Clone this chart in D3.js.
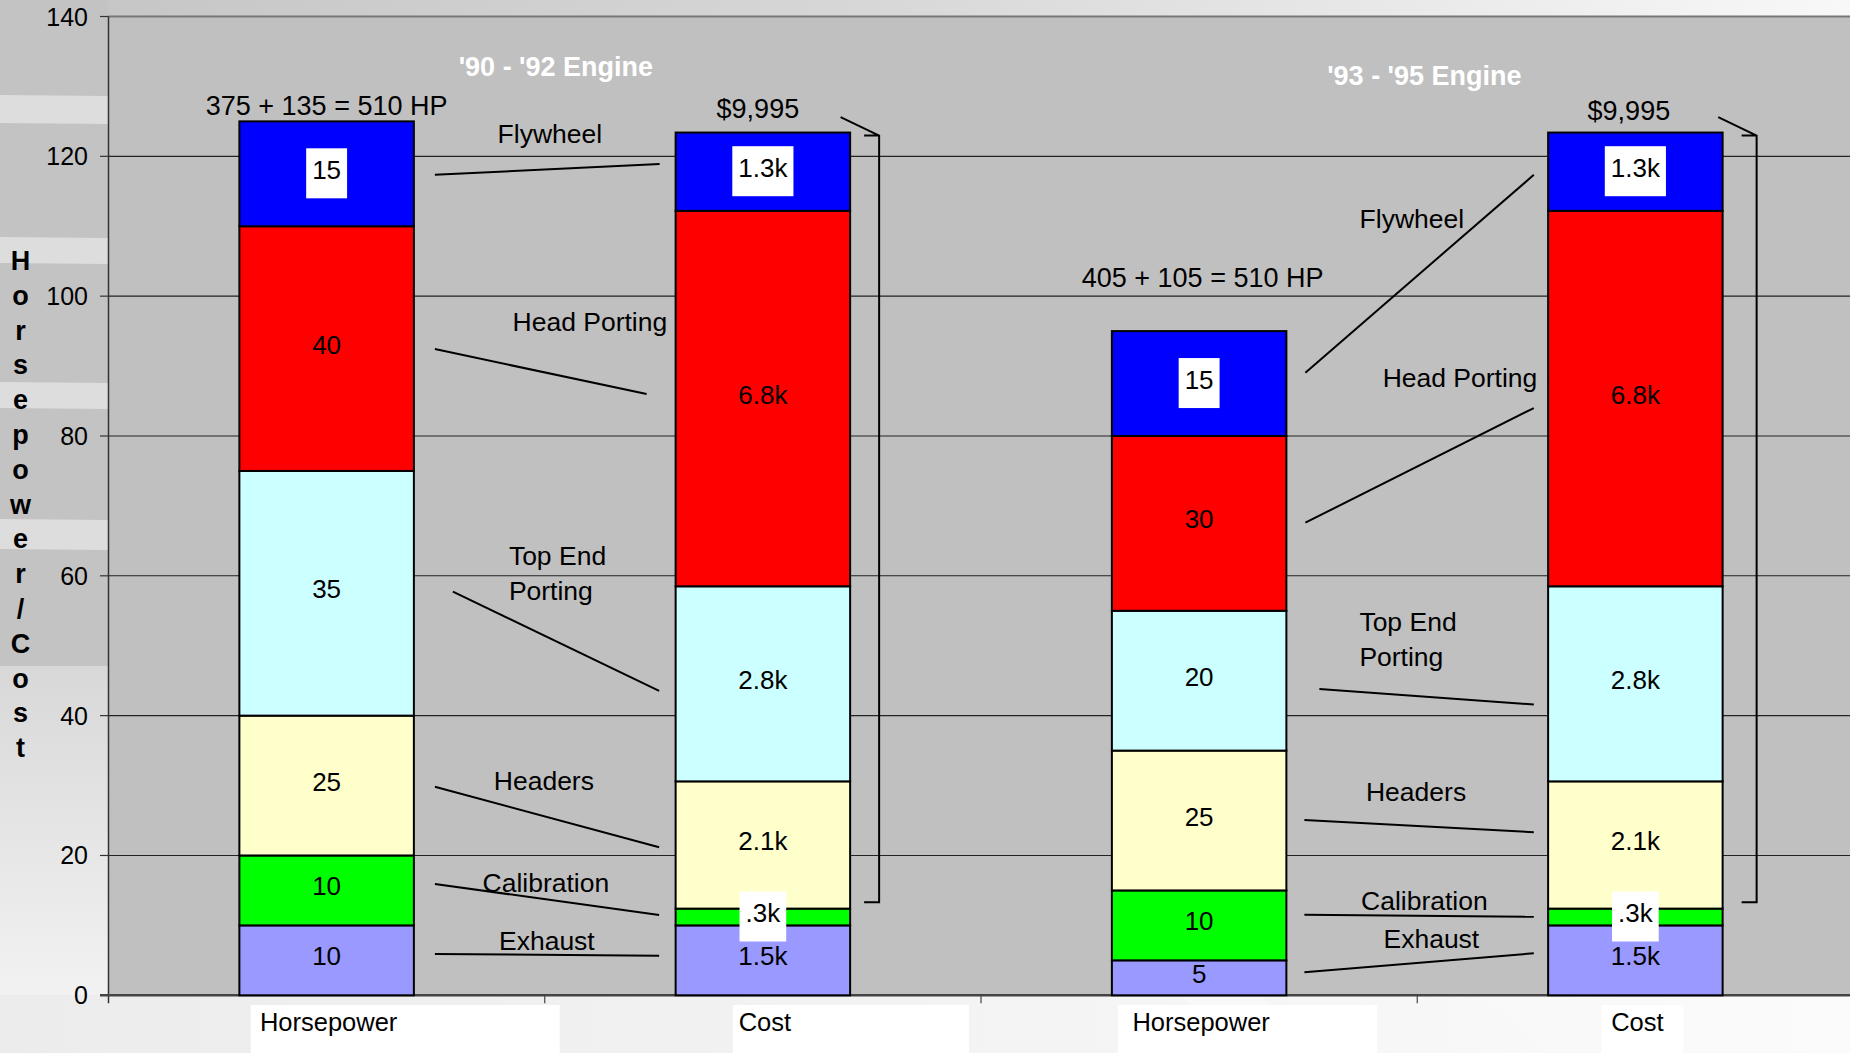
<!DOCTYPE html>
<html><head><meta charset="utf-8">
<script src="https://cdn.jsdelivr.net/npm/d3@7"></script>
<style>html,body{margin:0;padding:0;overflow:hidden;background:#fff}</style>
</head><body>
<svg id="c" width="1850" height="1053"></svg>
<script>
// ---------------- DATA ----------------
const barKeys = ["hp1", "cost1", "hp2", "cost2"];
const barTickLabels = ["Horsepower", "Cost", "Horsepower", "Cost"];
const components = ["Exhaust", "Calibration", "Headers", "Top End Porting", "Head Porting", "Flywheel"];
const componentLabels = [["Exhaust"], ["Calibration"], ["Headers"], ["Top End", "Porting"], ["Head Porting"], ["Flywheel"]];
// plotted heights (bottom -> top)
const hp1Values = [10, 10, 20, 35, 35, 15];
const cost1Values = [10, 2.4, 18.2, 27.9, 53.7, 11.2];
const hp2Values = [5, 10, 20, 20, 25, 15];
const cost2Values = [10, 2.4, 18.2, 27.9, 53.7, 11.2];
// printed segment labels
const hp1Labels = ["10", "10", "25", "35", "40", "15"];
const cost1Labels = ["1.5k", ".3k", "2.1k", "2.8k", "6.8k", "1.3k"];
const hp2Labels = ["5", "10", "25", "20", "30", "15"];
const cost2Labels = ["1.5k", ".3k", "2.1k", "2.8k", "6.8k", "1.3k"];
const totalLabels = ["375 + 135 = 510 HP", "$9,995", "405 + 105 = 510 HP", "$9,995"];
const groupTitles = ["'90 - '92 Engine", "'93 - '95 Engine"];
const yTicks = [0, 20, 40, 60, 80, 100, 120, 140];
const yTitle = "Horsepower/Cost";
// leader lines: value at HP end, value at Cost end (per component)
const leaderLeft = [[5.91, 5.67], [15.92, 11.49], [29.84, 21.17], [57.74, 43.53], [92.43, 86.0], [117.35, 118.9]];
const leaderRight = [[3.29, 6.01], [11.53, 11.24], [25.08, 23.32], [43.8, 41.6], [67.6, 84.0], [89.06, 117.35]];

// ---------------- STYLE / LAYOUT ----------------
const colors = ["#9999ff", "#00ff00", "#ffffcc", "#ccffff", "#ff0000", "#0000ff"];
const FONT = "'Liberation Sans', Arial, Helvetica, sans-serif";
const W = 1850, H = 1053;
const svg = d3.select("#c");

const x = d3.scaleBand().domain(barKeys).range([108.5, 1853.5]).paddingInner(0.6).paddingOuter(0.3);
const y = d3.scaleLinear().domain([0, 140]).range([995.3, 16.5]);
const bw = x.bandwidth();

const groups = [
  { hp: "hp1", cost: "cost1", leaders: leaderLeft, title: groupTitles[0], titleDx: 142, titleV: 131.5,
    lineStart: [21, 21, 21, 39, 21, 21], lineEnd: [-16.5, -16.5, -16.5, -16.5, -29, -16],
    labels: [{dx: 133, v: 6.5}, {dx: 132, v: 14.8}, {dx: 130, v: 29.4}, {dx: 95, v: 61.56, a: "start"}, {dx: 176, v: 95.0}, {dx: 136, v: 121.9}],
    bracket: {dx0: -9.5, v0: 125.6, dx: 29, vTop: 122.97, vBot: 13.3} },
  { hp: "hp2", cost: "cost2", leaders: leaderRight, title: groupTitles[1], titleDx: 138, titleV: 130.2,
    lineStart: [18, 18, 18, 33, 19, 19], lineEnd: [-14.3, -14.3, -14.3, -14.3, -14.3, -14.3],
    labels: [{dx: 145, v: 6.72}, {dx: 138, v: 12.2}, {dx: 129.7, v: 27.84}, {dx: 73, v: 52.1, a: "start"}, {dx: 173.6, v: 87.0}, {dx: 125.5, v: 109.7}],
    bracket: {dx0: -4.4, v0: 125.6, dx: 34, vTop: 122.97, vBot: 13.3} }
];

// ---------------- BACKGROUND ----------------
const defs = svg.append("defs");
const g1 = defs.append("linearGradient").attr("id", "topG").attr("x1", 0).attr("x2", 1).attr("y1", 0).attr("y2", 0);
g1.append("stop").attr("offset", "0%").attr("stop-color", "#c4c4c4");
g1.append("stop").attr("offset", "45%").attr("stop-color", "#d6d6d6");
g1.append("stop").attr("offset", "100%").attr("stop-color", "#f8f8f8");
const g2 = defs.append("linearGradient").attr("id", "botG").attr("x1", 0).attr("x2", 1).attr("y1", 0).attr("y2", 0);
g2.append("stop").attr("offset", "0%").attr("stop-color", "#ececec");
g2.append("stop").attr("offset", "50%").attr("stop-color", "#f3f3f3");
g2.append("stop").attr("offset", "100%").attr("stop-color", "#fbfbfb");
const g3 = defs.append("linearGradient").attr("id", "leftG").attr("x1", 0).attr("x2", 0).attr("y1", 0).attr("y2", 1);
g3.append("stop").attr("offset", "0%").attr("stop-color", "#d8d8d8");
g3.append("stop").attr("offset", "100%").attr("stop-color", "#f2f2f2");

svg.append("rect").attr("width", W).attr("height", H).attr("fill", "#eeeeee");
svg.append("rect").attr("x", 0).attr("y", 0).attr("width", W).attr("height", 17).attr("fill", "url(#topG)");
svg.append("rect").attr("x", 0).attr("y", 0).attr("width", 108.5).attr("height", 666).attr("fill", "#c3c3c3");
svg.append("rect").attr("x", 0).attr("y", 666).attr("width", 108.5).attr("height", 330).attr("fill", "url(#leftG)");
[[95, 123], [237, 263], [382, 408], [519, 549]].forEach(([a, b]) => {
  svg.append("path").attr("d", `M0,${a}L108.5,${a + 1}L108.5,${b + 1}L0,${b}Z`).attr("fill", "#dddddd");
});
svg.append("rect").attr("x", 0).attr("y", 995).attr("width", W).attr("height", 58).attr("fill", "url(#botG)");
[[1180, 1260], [1480, 1560]].forEach(([a, b]) => {
  svg.append("path").attr("d", `M${a},996L${b},996L${b + 70},1053L${a + 70},1053Z`).attr("fill", "#f9f9f9").attr("opacity", 0.8);
});

// plot area
svg.append("rect").attr("x", 108.5).attr("y", y(140)).attr("width", W - 108.5).attr("height", y(0) - y(140)).attr("fill", "#c0c0c0");

// gridlines
svg.append("g").selectAll("line").data(yTicks.filter(t => t > 0)).join("line")
  .attr("x1", 108.5).attr("x2", W).attr("y1", d => y(d)).attr("y2", d => y(d))
  .attr("stroke", d => d === 140 ? "#777" : "#222").attr("stroke-width", d => d === 140 ? 2 : 1.1);

// y axis
svg.append("line").attr("x1", 108.5).attr("x2", 108.5).attr("y1", y(140)).attr("y2", y(0) + 8).attr("stroke", "#333").attr("stroke-width", 1.5);
svg.append("g").selectAll("line").data(yTicks).join("line")
  .attr("x1", 100).attr("x2", 108.5).attr("y1", d => y(d)).attr("y2", d => y(d)).attr("stroke", "#333").attr("stroke-width", 1.2);
svg.append("g").selectAll("text").data(yTicks).join("text")
  .attr("x", 88).attr("y", d => y(d) + 9).attr("text-anchor", "end")
  .attr("font-family", FONT).attr("font-size", 25).attr("fill", "#000").text(d => d);

// y title (stacked letters)
svg.append("g").selectAll("text").data(yTitle.split("")).join("text")
  .attr("x", 20.5).attr("y", (d, i) => 270 + i * 34.8).attr("text-anchor", "middle")
  .attr("font-family", FONT).attr("font-weight", "bold").attr("font-size", 27).attr("fill", "#000").text(d => d);

// x axis baseline and boundary ticks
svg.append("line").attr("x1", 100).attr("x2", W).attr("y1", y(0)).attr("y2", y(0)).attr("stroke", "#444").attr("stroke-width", 2.5);
const boundaries = d3.range(barKeys.length).map(i => x.range()[0] + i * x.step());
svg.append("g").selectAll("line").data(boundaries.slice(1)).join("line")
  .attr("x1", d => d).attr("x2", d => d).attr("y1", y(0)).attr("y2", y(0) + 8).attr("stroke", "#444").attr("stroke-width", 1.2);

// x labels with white boxes
const boxOff = [[-76, 233], [-30, 206], [-81, 178], [-34, 48]];
barKeys.forEach((k, i) => {
  const cx = x(k) + bw / 2;
  svg.append("rect").attr("x", cx + boxOff[i][0]).attr("y", 1005).attr("width", boxOff[i][1] - boxOff[i][0]).attr("height", 48).attr("fill", "#ffffff");
  svg.append("text").attr("x", cx + 2).attr("y", 1031).attr("text-anchor", "middle")
    .attr("font-family", FONT).attr("font-size", 25.5).attr("fill", "#000").text(barTickLabels[i]);
});

// ---------------- BARS ----------------
const barValues = {hp1: hp1Values, cost1: cost1Values, hp2: hp2Values, cost2: cost2Values};
const barLabels = {hp1: hp1Labels, cost1: cost1Labels, hp2: hp2Labels, cost2: cost2Labels};
const stackRows = barKeys.map(k => {
  const o = {key: k};
  components.forEach((c, j) => o[c] = barValues[k][j]);
  return o;
});
const series = d3.stack().keys(components)(stackRows);
const barG = svg.append("g");
series.forEach((s, j) => {
  barG.selectAll(null).data(s).join("rect")
    .attr("x", d => x(d.data.key)).attr("width", bw)
    .attr("y", d => y(d[1])).attr("height", d => y(d[0]) - y(d[1]))
    .attr("fill", colors[j]).attr("stroke", "#000").attr("stroke-width", 2);
});
// segment labels
const labG = svg.append("g");
series.forEach((s, j) => {
  s.forEach(d => {
    const k = d.data.key;
    const txt = barLabels[k][j];
    const cx = x(k) + bw / 2;
    const by = (y(d[0]) + y(d[1])) / 2 + 5;
    const t = labG.append("text").attr("x", cx).attr("y", by).attr("text-anchor", "middle")
      .attr("font-family", FONT).attr("font-size", 26).attr("fill", "#000").text(txt);
    const boxed = j === 5 || (k.startsWith("cost") && j === 1);
    if (boxed) {
      const w = t.node().getComputedTextLength();
      labG.insert("rect", () => t.node()).attr("x", cx - w / 2 - 6).attr("y", by - 30.5)
        .attr("width", w + 12).attr("height", 50).attr("fill", "#ffffff");
    }
  });
});

// totals above bars
const totalDx = [0, -5, 3.5, -6.5];
const totalV = [125.9, 125.5, 101.3, 125.2];
barKeys.forEach((k, i) => {
  svg.append("text").attr("x", x(k) + bw / 2 + totalDx[i]).attr("y", y(totalV[i])).attr("text-anchor", "middle")
    .attr("font-family", FONT).attr("font-size", 27).attr("fill", "#000").text(totalLabels[i]);
});

// ---------------- ANNOTATIONS ----------------
groups.forEach(g => {
  const hpRight = x(g.hp) + bw;
  const costLeft = x(g.cost);
  const costRight = x(g.cost) + bw;
  // title
  svg.append("text").attr("x", hpRight + g.titleDx).attr("y", y(g.titleV)).attr("text-anchor", "middle")
    .attr("font-family", FONT).attr("font-weight", "bold").attr("font-size", 27).attr("fill", "#ffffff").text(g.title);
  // leader lines
  g.leaders.forEach((l, j) => {
    svg.append("line").attr("x1", hpRight + g.lineStart[j]).attr("y1", y(l[0]))
      .attr("x2", costLeft + g.lineEnd[j]).attr("y2", y(l[1]))
      .attr("stroke", "#000").attr("stroke-width", 2);
  });
  // labels
  g.labels.forEach((p, j) => {
    componentLabels[j].forEach((line, li) => {
      svg.append("text").attr("x", hpRight + p.dx).attr("y", y(p.v) + li * 35)
        .attr("text-anchor", p.a || "middle").attr("font-family", FONT).attr("font-size", 26.5).attr("fill", "#000").text(line);
    });
  });
  // bracket
  const b = g.bracket, bx = costRight + b.dx;
  svg.append("path")
    .attr("d", `M${costRight + b.dx0},${y(b.v0)}L${bx},${y(b.vTop)}L${bx},${y(b.vBot)}L${bx - 15},${y(b.vBot)}M${bx - 15},${y(b.vTop)}L${bx},${y(b.vTop)}`)
    .attr("fill", "none").attr("stroke", "#000").attr("stroke-width", 2);
});
</script>
</body></html>
